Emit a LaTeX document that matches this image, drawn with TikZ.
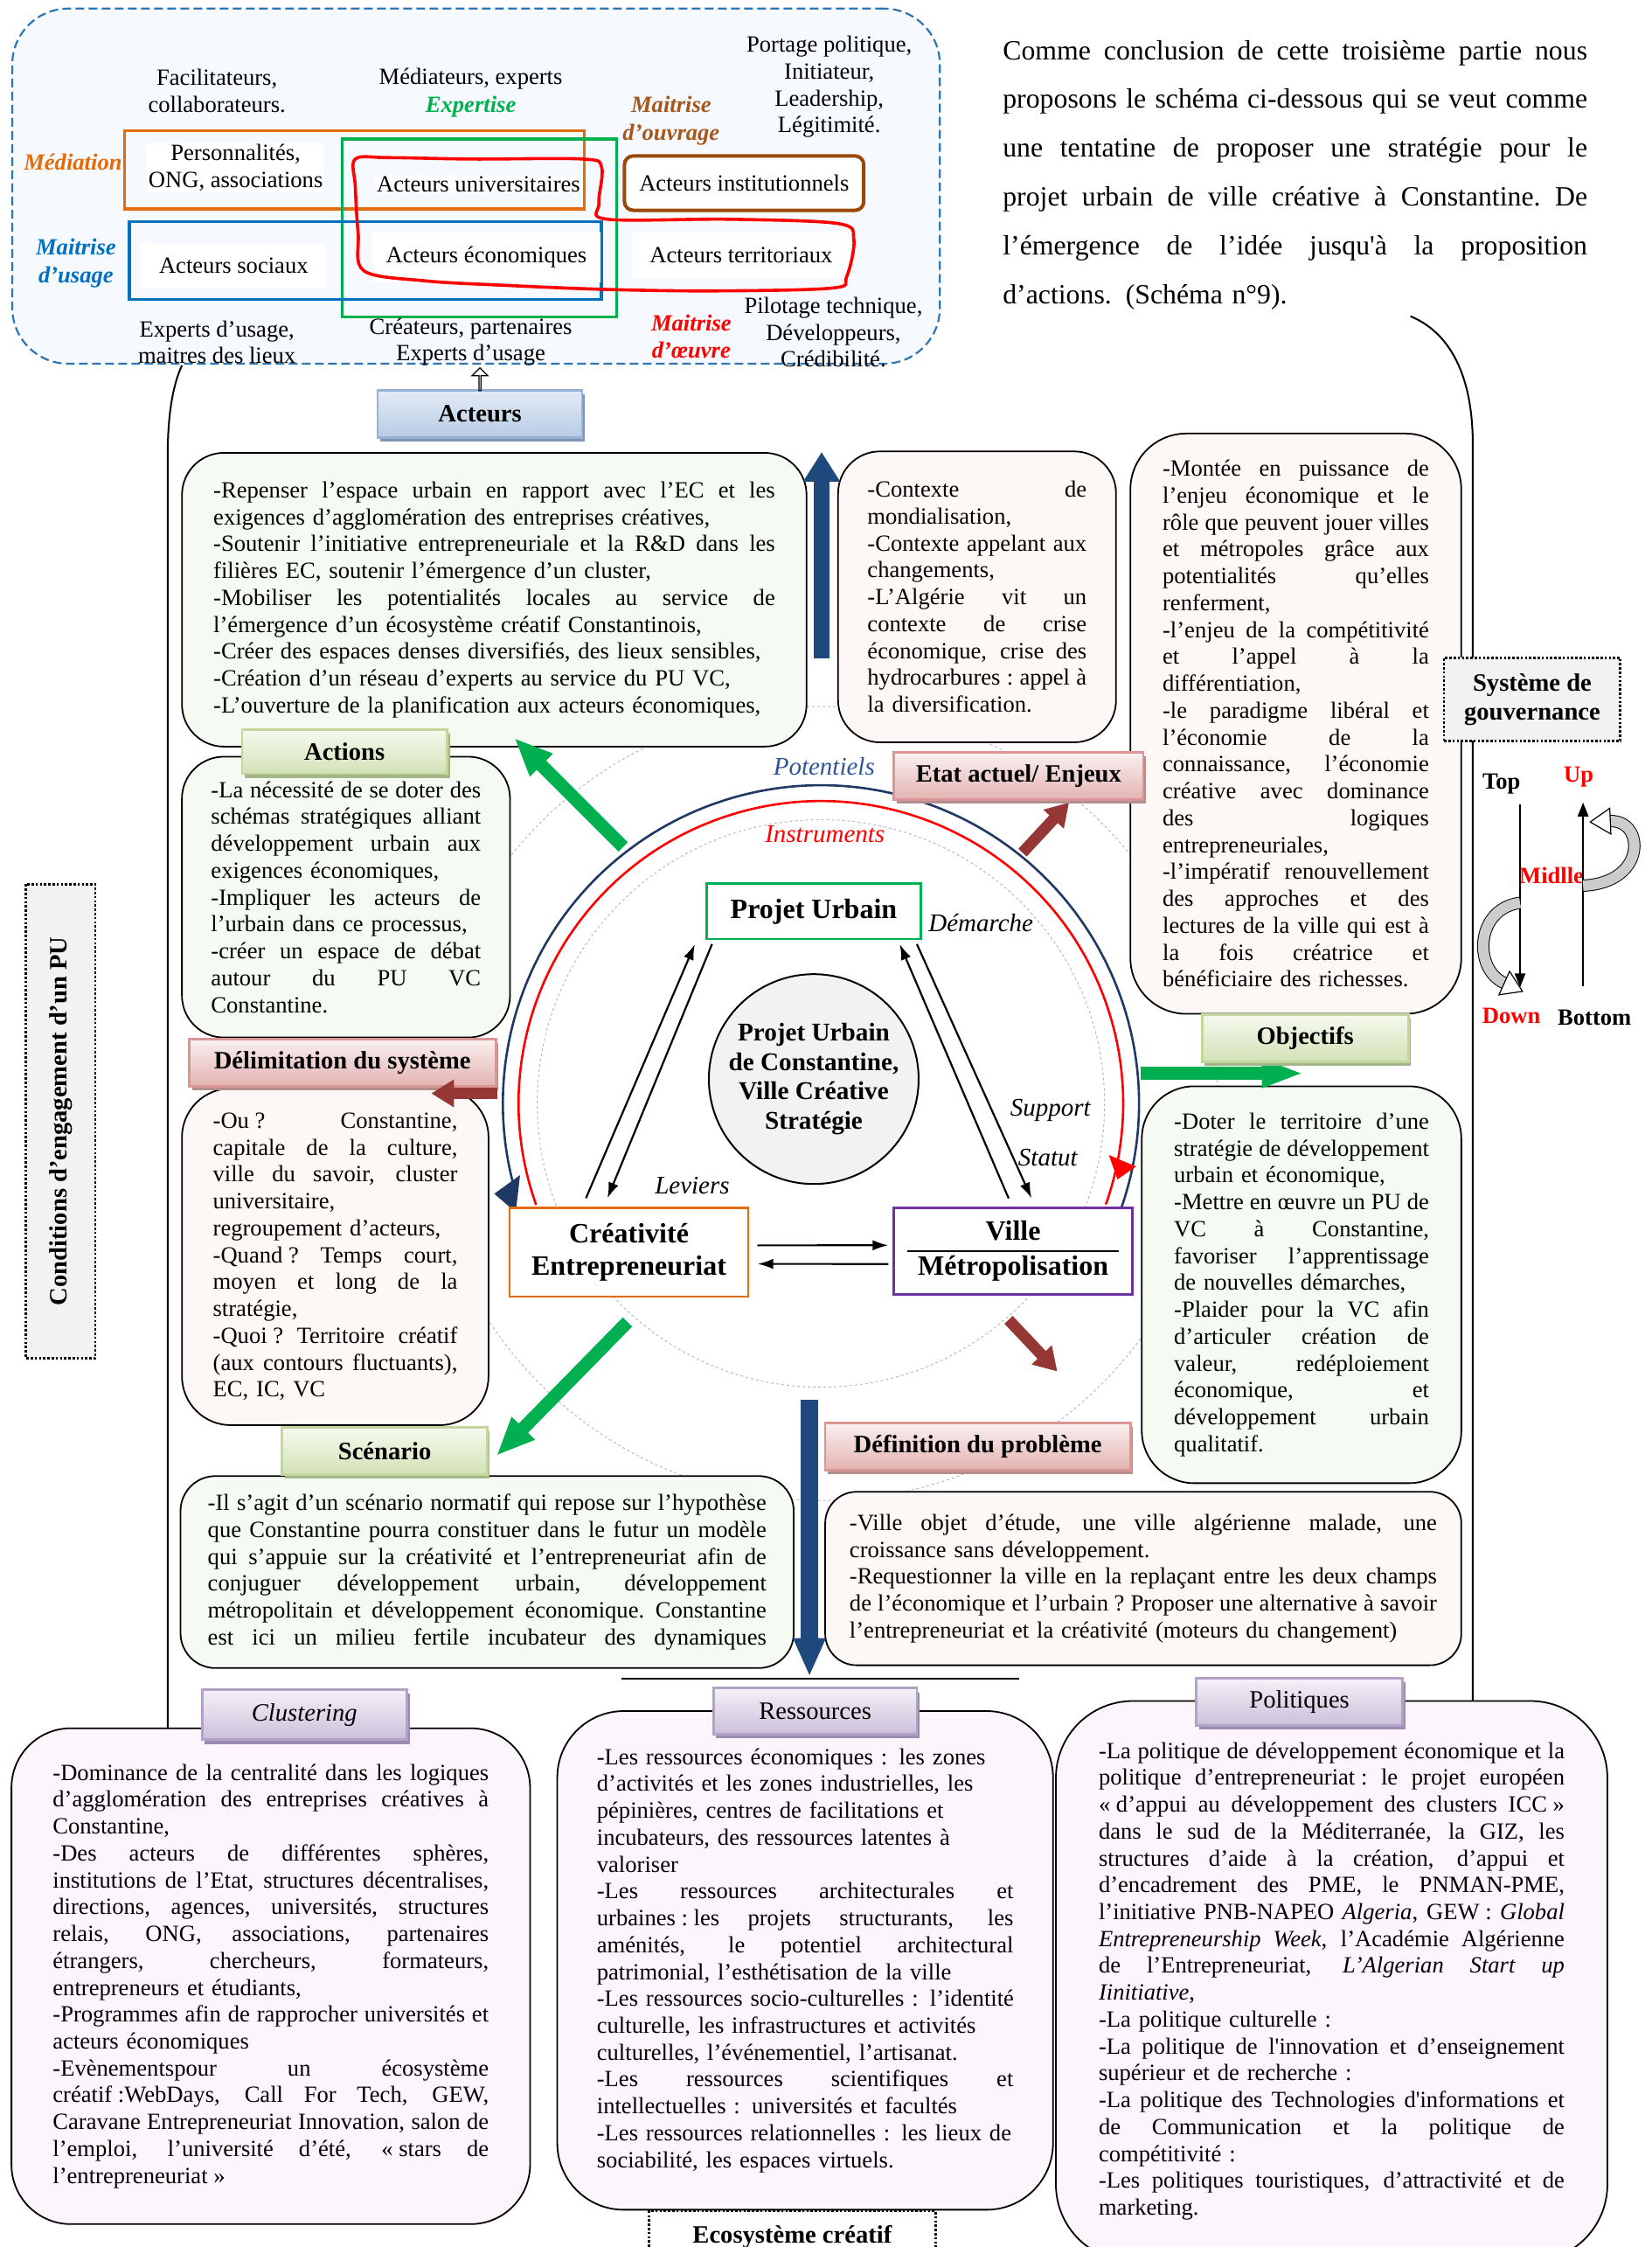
\documentclass[tikz,border=0pt]{standalone}
\usepackage{fontspec}
\setmainfont{Liberation Serif}
\usetikzlibrary{arrows.meta,shadows,shapes.arrows}
\hbadness=10000
\hfuzz=60pt
% one justified line / one natural line of a text block
\newlength\jlw
\newcommand\JL[1]{\ifvmode\noindent\fi\hbox to\jlw{\spaceskip=0.25em plus 1fil minus 0.06em\xspaceskip=\spaceskip #1}\par}
\newcommand\EL[1]{\ifvmode\noindent\fi\hbox{#1}\par}
\newcommand\fsp{\kern0.25em}

\definecolor{dashblue}{HTML}{2E75B6}
\definecolor{topfill}{HTML}{F6F9FE}
\definecolor{orangeC}{HTML}{E36C09}
\definecolor{greenC}{HTML}{00B050}
\definecolor{blueC}{HTML}{0070C0}
\definecolor{brownC}{HTML}{984807}
\definecolor{ouvrage}{HTML}{A5561B}
\definecolor{navy}{HTML}{1F497D}
\definecolor{arcblue}{HTML}{1F3864}
\definecolor{potblue}{HTML}{2F5496}
\definecolor{darkred}{HTML}{953735}
\definecolor{purpleC}{HTML}{7030A0}
\definecolor{fillG}{HTML}{F5FAF2}
\definecolor{fillP}{HTML}{FDF8F6}
\definecolor{fillL}{HTML}{FCF5FC}
\definecolor{grayF}{HTML}{F2F2F2}
\definecolor{gTop}{HTML}{F6F9EF}
\definecolor{gBot}{HTML}{D3E2B6}
\definecolor{gLine}{HTML}{C3D69B}
\definecolor{gShad}{HTML}{A3B58A}
\definecolor{pTop}{HTML}{FAF0F0}
\definecolor{pBot}{HTML}{E3B3B2}
\definecolor{pLine}{HTML}{D99694}
\definecolor{pShad}{HTML}{B48E8D}
\definecolor{lTop}{HTML}{F4F1F8}
\definecolor{lBot}{HTML}{CBC0DA}
\definecolor{lLine}{HTML}{B3A2C7}
\definecolor{lShad}{HTML}{9A8CAE}
\definecolor{bTop}{HTML}{E3EBF6}
\definecolor{bBot}{HTML}{B7CBE4}
\definecolor{bLine}{HTML}{95B3D7}
\definecolor{bShad}{HTML}{8095B5}

\tikzset{
  body/.style={font=\fontsize{13.3}{15.37}\selectfont},
  tw/.style={text width=#1, execute at begin node={\setlength{\jlw}{#1}}},
  txtbox/.style={body, draw=black, line width=0.9pt, inner sep=0pt},
  lblbase/.style={line width=1.4pt, inner sep=0pt,
    drop shadow={shadow xshift=1.6pt, shadow yshift=-2.4pt, opacity=1, fill=#1}},
  lblG/.style={lblbase=gShad, draw=gLine, top color=gTop, bottom color=gBot, font=\fontsize{14.3}{17}\selectfont\bfseries},
  lblP/.style={lblbase=pShad, draw=pLine, top color=pTop, bottom color=pBot, font=\fontsize{14.3}{17}\selectfont\bfseries},
  lblL/.style={lblbase=lShad, draw=lLine, top color=lTop, bottom color=lBot, font=\fontsize{14.3}{17}\selectfont},
  lblB/.style={lblbase=bShad, draw=bLine, top color=bTop, bottom color=bBot, font=\fontsize{14.3}{17}\selectfont\bfseries},
  toptxt/.style={font=\fontsize{13.3}{15.3}\selectfont, align=center, inner sep=1pt},
  keyw/.style={font=\fontsize{13.3}{15.8}\selectfont\bfseries\itshape, align=center, inner sep=1pt},
  circtxt/.style={font=\fontsize{14.5}{17}\selectfont\itshape, inner sep=1pt},
  govtxt/.style={font=\fontsize{13.3}{16}\selectfont\bfseries, inner sep=1pt},
  dotbox/.style={draw, fill=grayF, line width=1.3pt, dash pattern=on 1.3pt off 1.1pt, inner sep=0pt},
  tri/.style={line width=1.1pt, -{Latex[length=9pt,width=6pt]}},
  garrow/.style={greenC, line width=7.5pt, -{Triangle[length=22pt,width=17pt]}},
  rarrow/.style={darkred, line width=6.5pt, -{Triangle[length=13pt,width=15pt]}},
  ribbon/.style={black, line width=0.5pt, double=gray!40, double distance=6pt},
}

\begin{document}
\begin{tikzpicture}[x=0.8196pt,y=-0.8196pt]
\useasboundingbox (0,0) rectangle (1153,1568);

% ---------- outer frame ----------
\draw[line width=1pt] (127,255) .. controls (120,270) and (117,292) .. (117,320) -- (117,1215);
\draw[line width=1pt] (984.5,220.7) .. controls (1012,232) and (1028,262) .. (1028,310) -- (1028,1200);
\draw[line width=1pt] (434,1171.5) -- (711.5,1171.5);

% ---------- guide circles ----------
\draw[gray!55, line width=0.5pt, dash pattern=on 1.5pt off 1.5pt] (573,770) circle[radius=277];
\draw[gray!55, line width=0.5pt, dash pattern=on 1.5pt off 1.5pt] (573,770) circle[radius=198];

% ---------- actors panel ----------
\node[draw=dashblue, fill=topfill, line width=1.1pt, dash pattern=on 5pt off 2.5pt,
      rounded corners=32pt, minimum width=530.7pt, minimum height=203.1pt, inner sep=0pt] (actpanel) at (332.3,129.9) {};
\draw[orangeC, line width=1.6pt] (86.9,91.1) rectangle (407.9,145.8);
\draw[greenC, line width=1.6pt] (238.7,97) rectangle (430.4,221);
\draw[blueC, line width=1.8pt] (90.3,154.6) rectangle (419.8,208.9);

\node[toptxt] (fac) at (151.4,63.6) {Facilitateurs,\\collaborateurs.};
\node[toptxt] (med) at (328.6,54.9) {Médiateurs, experts};
\node[keyw, text=greenC] (expert) at (328.6,74.2) {Expertise};
\node[toptxt] (port) at (578.8,60.7) {Portage politique,\\Initiateur,\\Leadership,\\Légitimité.};
\node[keyw, text=ouvrage] (mouv) at (468.5,84.1) {Maitrise\\d’ouvrage};
\node[keyw, text=orangeC] (medi) at (50.9,113.3) {Médiation};
\node[toptxt, fill=white] (pers) at (164.5,116.9) {Personnalités,\\ONG, associations};
\node[toptxt, fill=white] (univ) at (334,128.5) {Acteurs universitaires};
\node[toptxt, draw=brownC, line width=2pt, rounded corners=5pt, fill=white,
      minimum width=136.9pt, minimum height=31.1pt] (inst) at (519.4,127.8) {Acteurs institutionnels};
\node[keyw, text=blueC] (musage) at (53,183.8) {Maitrise\\d’usage};
\node[toptxt, fill=white, minimum width=106pt, minimum height=25.9pt] (soc) at (163.1,185.6) {Acteurs sociaux};
\node[toptxt, fill=white, minimum width=130.2pt, minimum height=29.2pt] (eco) at (339.5,179.5) {Acteurs économiques};
\node[toptxt, fill=white, minimum width=125pt, minimum height=26.6pt] (terr) at (517.3,177.9) {Acteurs territoriaux};
\node[toptxt] (exu) at (151.4,238.8) {Experts d’usage,\\maitres des lieux};
\node[toptxt] (creat) at (328.6,238.6) {Créateurs, partenaires\\Experts d’usage};
\node[keyw, text=red] (moeuv) at (482.5,234.9) {Maitrise\\d’œuvre};
\node[toptxt] (pil) at (581.7,231.9) {Pilotage technique,\\Développeurs,\\Crédibilité.};

% hand-drawn grouping loop
\draw[red, line width=1.8pt] plot[smooth cycle, tension=0.55] coordinates {
  (248,111) (271,110) (330,111) (407,111) (420,117) (418,142) (424,153) (509,153)
  (585,156) (596,167) (591,193) (581,201) (500,203) (424,202) (350,199) (297,196)
  (254,189) (250,163) (248,130)};

% ---------- introduction text ----------
\node[font=\fontsize{15.9}{27.9}\selectfont, tw=334.4pt, inner sep=0pt] (intro) at (904,122) {%
\JL{Comme conclusion de cette troisième partie nous}%
\JL{proposons le schéma ci-dessous qui se veut comme}%
\JL{une tentatine de proposer une stratégie pour le}%
\JL{projet urbain de ville créative à Constantine. De}%
\JL{l’émergence de l’idée jusqu\textquotesingle à la proposition}%
\EL{d’actions. (Schéma n°9).}};

% ---------- text boxes ----------
\node[txtbox, fill=fillG, rounded corners=24pt, minimum width=357.3pt, minimum height=168pt, tw=321.3pt] (actbox) at (345,418.5) {%
\JL{-Repenser l’espace urbain en rapport avec l’EC et les}%
\EL{exigences d’agglomération des entreprises créatives,}%
\JL{-Soutenir l’initiative entrepreneuriale et la R\&D dans les}%
\EL{filières EC, soutenir l’émergence d’un cluster,}%
\JL{-Mobiliser les potentialités locales au service de}%
\EL{l’émergence d’un écosystème créatif Constantinois,}%
\EL{-Créer des espaces denses diversifiés, des lieux sensibles,}%
\EL{-Création d’un réseau d’experts au service du PU VC,}%
\EL{-L’ouverture de la planification aux acteurs économiques,}};

\node[txtbox, fill=fillP, rounded corners=24pt, minimum width=159pt, minimum height=166.4pt, tw=125.4pt] (ctxbox) at (682,416.5) {%
\JL{-Contexte de}%
\EL{mondialisation,}%
\JL{-Contexte appelant aux}%
\EL{changements,}%
\JL{-L’Algérie vit un}%
\JL{contexte de crise}%
\JL{économique, crise des}%
\JL{hydrocarbures : appel à}%
\EL{la diversification.}};

\node[txtbox, fill=fillP, rounded corners=32pt, minimum width=189.3pt, minimum height=331.9pt, tw=152.4pt] (monbox) at (904.5,505) {%
\JL{-Montée en puissance de}%
\JL{l’enjeu économique et le}%
\JL{rôle que peuvent jouer villes}%
\JL{et métropoles grâce aux}%
\JL{potentialités qu’elles}%
\EL{renferment,}%
\JL{-l’enjeu de la compétitivité}%
\JL{et l’appel à la}%
\EL{différentiation,}%
\JL{-le paradigme libéral et}%
\JL{l’économie de la}%
\JL{connaissance, l’économie}%
\JL{créative avec dominance}%
\JL{des logiques}%
\EL{entrepreneuriales,}%
\JL{-l’impératif renouvellement}%
\JL{des approches et des}%
\JL{lectures de la ville qui est à}%
\JL{la fois créatrice et}%
\EL{bénéficiaire des richesses.}};

\node[txtbox, fill=fillG, rounded corners=24pt, minimum width=187.7pt, minimum height=160.6pt, tw=154.4pt] (necbox) at (241.5,626) {%
\JL{-La nécessité de se doter des}%
\JL{schémas stratégiques alliant}%
\JL{développement urbain aux}%
\EL{exigences économiques,}%
\JL{-Impliquer les acteurs de}%
\EL{l’urbain dans ce processus,}%
\JL{-créer un espace de débat}%
\JL{autour du PU VC}%
\EL{Constantine.}};

\node[txtbox, fill=fillP, rounded corners=28pt, minimum width=175.4pt, minimum height=192.6pt, tw=139.9pt] (delbox) at (234,877) {%
\JL{-Ou\fsp? Constantine,}%
\JL{capitale de la culture,}%
\JL{ville du savoir, cluster}%
\EL{universitaire,}%
\EL{regroupement d’acteurs,}%
\JL{-Quand\fsp? Temps court,}%
\JL{moyen et long de la}%
\EL{stratégie,}%
\JL{-Quoi\fsp? Territoire créatif}%
\JL{(aux contours fluctuants),}%
\EL{EC, IC, VC}};

\node[txtbox, fill=fillG, rounded corners=30pt, minimum width=182.8pt, minimum height=227pt, tw=145.9pt] (objbox) at (908.5,896.5) {%
\JL{-Doter le territoire d’une}%
\JL{stratégie de développement}%
\EL{urbain et économique,}%
\JL{-Mettre en œuvre un PU de}%
\JL{VC à Constantine,}%
\JL{favoriser l’apprentissage}%
\EL{de nouvelles démarches,}%
\JL{-Plaider pour la VC afin}%
\JL{d’articuler création de}%
\JL{valeur, redéploiement}%
\JL{économique, et}%
\JL{développement urbain}%
\EL{qualitatif.}};

\node[txtbox, fill=fillG, rounded corners=20pt, minimum width=350.8pt, minimum height=109.8pt, tw=319.6pt] (scnbox) at (340,1097) {%
\JL{-Il s’agit d’un scénario normatif qui repose sur l’hypothèse}%
\JL{que Constantine pourra constituer dans le futur un modèle}%
\JL{qui s’appuie sur la créativité et l’entrepreneuriat afin de}%
\JL{conjuguer développement urbain, développement}%
\JL{métropolitain et développement économique. Constantine}%
\JL{est ici un milieu fertile incubateur des dynamiques}};

\node[txtbox, fill=fillP, rounded corners=18pt, minimum width=363.9pt, minimum height=99.2pt, tw=336pt] (defbox) at (798,1101.5) {%
\JL{-Ville objet d’étude, une ville algérienne malade, une}%
\EL{croissance sans développement.}%
\JL{-Requestionner la ville en la replaçant entre les deux champs}%
\JL{de l’économique et l’urbain\fsp? Proposer une alternative à savoir}%
\EL{l’entrepreneuriat et la créativité (moteurs du changement)}};

% ecosystem caption under the resources
\node[dotbox, fill=white, minimum width=163.9pt, minimum height=46.7pt] (ecobox) at (553,1571.5) {};
\node[font=\fontsize{14.3}{17}\selectfont\bfseries, inner sep=0pt] (ecotxt) at (553,1561) {Ecosystème créatif};

\node[txtbox, fill=fillL, rounded corners=34pt, minimum width=296.7pt, minimum height=283.6pt, tw=249.4pt] (clubox) at (189,1379) {%
\JL{-Dominance de la centralité dans les logiques}%
\JL{d’agglomération des entreprises créatives à}%
\EL{Constantine,}%
\JL{-Des acteurs de différentes sphères,}%
\JL{institutions de l’Etat, structures décentralises,}%
\JL{directions, agences, universités, structures}%
\JL{relais, ONG, associations, partenaires}%
\JL{étrangers, chercheurs, formateurs,}%
\EL{entrepreneurs et étudiants,}%
\JL{-Programmes afin de rapprocher universités et}%
\EL{acteurs économiques}%
\JL{-Evènementspour un écosystème}%
\JL{créatif\fsp:WebDays, Call For Tech, GEW,}%
\JL{Caravane Entrepreneuriat Innovation, salon de}%
\JL{l’emploi, l’université d’été, «\fsp stars de}%
\EL{l’entrepreneuriat\fsp»}};

\node[txtbox, fill=fillL, rounded corners=38pt, minimum width=283.6pt, minimum height=285.2pt, tw=238.3pt] (resbox) at (562,1368) {%
\EL{-Les ressources économiques : les zones}%
\EL{d’activités et les zones industrielles, les}%
\EL{pépinières, centres de facilitations et}%
\EL{incubateurs, des ressources latentes à}%
\EL{valoriser}%
\JL{-Les ressources architecturales et}%
\JL{urbaines\fsp:\fsp les projets structurants, les}%
\JL{aménités, le potentiel architectural}%
\EL{patrimonial, l’esthétisation de la ville}%
\EL{-Les ressources socio-culturelles : l’identité}%
\EL{culturelle, les infrastructures et activités}%
\EL{culturelles, l’événementiel, l’artisanat.}%
\JL{-Les ressources scientifiques et}%
\EL{intellectuelles : universités et facultés}%
\EL{-Les ressources relationnelles : les lieux de}%
\EL{sociabilité, les espaces virtuels.}};

\node[txtbox, fill=fillL, rounded corners=44pt, minimum width=315.5pt, minimum height=320.5pt, tw=266.5pt] (polbox) at (929.5,1382.5) {%
\JL{-La politique de développement économique et la}%
\JL{politique d’entrepreneuriat\fsp: le projet européen}%
\JL{«\fsp d’appui au développement des clusters ICC\fsp»}%
\JL{dans le sud de la Méditerranée, la GIZ, les}%
\JL{structures d’aide à la création, d’appui et}%
\JL{d’encadrement des PME, le PNMAN-PME,}%
\JL{l’initiative PNB-NAPEO \textit{Algeria}, GEW\fsp: \textit{Global}}%
\JL{\textit{Entrepreneurship Week}, l’Académie Algérienne}%
\JL{de l’Entrepreneuriat, \textit{L’Algerian Start up}}%
\EL{\textit{Iinitiative},}%
\EL{-La politique culturelle :}%
\JL{-La politique de l\textquotesingle innovation et d’enseignement}%
\EL{supérieur et de recherche :}%
\JL{-La politique des Technologies d\textquotesingle informations et}%
\JL{de Communication et la politique de}%
\EL{compétitivité :}%
\JL{-Les politiques touristiques, d’attractivité et de}%
\EL{marketing.}};

% ---------- side captions ----------
\node[dotbox, rotate=90, minimum width=271pt, minimum height=39.6pt,
      font=\fontsize{14.3}{17}\selectfont\bfseries] (cond) at (42.3,782.4) {Conditions d’engagement d’un PU};
\node[dotbox, minimum width=100.8pt, minimum height=47.5pt, align=center,
      font=\fontsize{14.3}{16.4}\selectfont\bfseries] (gouv) at (1069.5,488) {Système de\\gouvernance};

% ---------- governance levels ----------
\node[govtxt] (top) at (1048,547) {Top};
\node[govtxt, text=red] (up) at (1102,542) {Up};
\node[govtxt, text=red] (mid) at (1083,611) {Midlle};
\node[govtxt, text=red] (down) at (1055,709) {Down};
\node[govtxt] (bottom) at (1113,710) {Bottom};
\coordinate (ltop) at (1061,561); \coordinate (lbot) at (1061,689);
\coordinate (rtop) at (1105,560); \coordinate (rbot) at (1105,688);
\draw[line width=1.3pt, -{Triangle[length=8pt,width=6pt]}] (ltop) -- (lbot);
\draw[line width=1.3pt, -{Triangle[length=8pt,width=6pt]}] (rbot) -- (rtop);
\draw[ribbon] (1061,630) .. controls (1030,634) and (1028,676) .. (1050,686);
\draw[fill=white, line width=0.6pt] (1062.7,691.8) -- (1053.7,677.8) -- (1046.3,694.2) -- cycle;
\draw[ribbon] (1105,618) .. controls (1150,616) and (1148,572) .. (1124,573);
\draw[fill=white, line width=0.6pt] (1110,573.6) -- (1124.4,582) -- (1123.6,564) -- cycle;

% ---------- circles of the strategy ----------
\draw[arcblue, line width=1.3pt] (573,770) ++(19:222) arc[start angle=19, end angle=-196.5, radius=222];
\fill[arcblue] (345,833) -- (363,820) -- (360,846) -- cycle;
\draw[red, line width=1.3pt] (573,770) ++(-199.6:211) arc[start angle=-199.6, end angle=19.5, radius=211];
\fill[red] (774,806) -- (793,814) -- (780,823) -- cycle;

\node[circtxt, text=potblue] (pot) at (575.2,534.9) {Potentiels};
\node[circtxt, text=red] (instr) at (575.8,582) {Instruments};
\node[circtxt] (dem) at (684.7,644) {Démarche};
\node[circtxt] (supp) at (733.2,775) {Support};
\node[circtxt] (stat) at (731.4,807.8) {Statut};
\node[circtxt] (lev) at (483.2,827.4) {Leviers};

\node[draw=greenC, line width=1.3pt, fill=white, minimum width=122.4pt, minimum height=31.7pt,
      font=\fontsize{16}{19}\selectfont\bfseries, inner sep=0pt] (pu) at (568,636) {Projet Urbain};
\node[circle, draw, fill=grayF, line width=1pt, minimum size=120pt, align=center,
      font=\fontsize{14.6}{16.8}\selectfont\bfseries, inner sep=0pt] (core) at (568,753) {Projet Urbain\\de Constantine,\\Ville Créative\\Stratégie};
\node[draw=orangeC, line width=1.3pt, fill=white, minimum width=136.5pt, minimum height=50.8pt, align=center,
      font=\fontsize{16}{18.9}\selectfont\bfseries, inner sep=0pt] (cre) at (439,873.8) {Créativité\\Entrepreneuriat};
\node[draw=purpleC, line width=1.3pt, fill=white, minimum width=136.5pt, minimum height=49.4pt, align=center,
      font=\fontsize{16}{19.9}\selectfont\bfseries, inner sep=0pt] (vil) at (707.2,873) {Ville\\Métropolisation};
\draw[line width=0.9pt] ([xshift=8.4pt]vil.west) -- ([xshift=-8.6pt]vil.east);

\draw[tri] ([xshift=-24.6pt,yshift=4.8pt]cre.north) -- ([xshift=-68pt,yshift=-2.2pt]pu.south);
\draw[tri] ([xshift=-58.2pt,yshift=-2.2pt]pu.south) -- ([xshift=-12.3pt,yshift=4.8pt]cre.north);
\draw[tri] ([xshift=-2.6pt,yshift=4.8pt]vil.north) -- ([xshift=49.2pt,yshift=-2.2pt]pu.south);
\draw[tri] ([xshift=59pt,yshift=-2.2pt]pu.south) -- ([xshift=10.5pt,yshift=4.8pt]vil.north);
\draw[tri] ([xshift=4.7pt,yshift=3.9pt]cre.east) -- ([xshift=-2.5pt,yshift=3.3pt]vil.west);
\draw[tri] ([xshift=-2.5pt,yshift=-7.4pt]vil.west) -- ([xshift=4.7pt,yshift=-6.7pt]cre.east);

% ---------- block arrows ----------
\coordinate (g1s) at (435,591);   \coordinate (g1e) at (359,515);
\coordinate (g2s) at (796,749);   \coordinate (g2e) at (910,749);
\coordinate (g3s) at (438,922.5); \coordinate (g3e) at (346.5,1015.8);
\coordinate (r1s) at (713.7,595); \coordinate (r1e) at (746.2,560);
\coordinate (r2s) at (347,763);   \coordinate (r2e) at (301,763);
\coordinate (r3s) at (704,921);   \coordinate (r3e) at (738,957);
\coordinate (nus) at (573.5,459.5); \coordinate (nue) at (573.5,315.4);
\coordinate (nds) at (565,977);   \coordinate (nde) at (565,1170);
\draw[garrow] (g1s) -- (g1e);
\draw[greenC, line width=7.5pt, -{Triangle[length=24pt,width=15pt]}] (g2s) -- (g2e);
\draw[garrow] (g3s) -- (g3e);
\draw[rarrow] (r1s) -- (r1e);
\draw[rarrow] (r3s) -- (r3e);
\draw[navy, line width=9.4pt, -{Triangle[length=17pt,width=20pt]}] (nus) -- (nue);
\draw[navy, line width=9.6pt, -{Triangle[length=22pt,width=17pt]}] (nds) -- (nde);

% ---------- headings ----------
\node[lblB, minimum width=117pt, minimum height=27pt] (lact) at (335,289) {Acteurs};
\node[single arrow, draw, fill=white, line width=0.6pt, rotate=90, minimum height=13pt, minimum width=9pt,
      single arrow head extend=2pt, inner sep=0pt] (uparr) at (335,265) {};
\node[lblG, minimum width=117.2pt, minimum height=25.4pt] (lactions) at (240.5,524.5) {Actions};
\node[lblP, minimum width=142.6pt, minimum height=27pt] (letat) at (711,541.5) {Etat actuel/ Enjeux};
\node[lblP, minimum width=175.4pt, minimum height=27pt] (ldelim) at (239,741.5) {Délimitation du système};
\node[lblG, minimum width=118pt, minimum height=27pt] (lobj) at (911,724.5) {Objectifs};
\node[lblG, minimum width=117.2pt, minimum height=27pt] (lscn) at (268.5,1012.5) {Scénario};
\node[lblP, minimum width=174.6pt, minimum height=27pt] (ldef) at (682.5,1009.5) {Définition du problème};
\node[lblL, font=\fontsize{14.3}{17}\selectfont\itshape, minimum width=117.2pt, minimum height=28.7pt] (lclu) at (212.5,1196.5) {Clustering};
\node[lblL, minimum width=116.4pt, minimum height=26.2pt] (lres) at (569,1194) {Ressources};
\node[lblL, minimum width=118pt, minimum height=27pt] (lpol) at (907,1187.5) {Politiques};

% arrow towards the system delimitation, over its heading shadow
\draw[rarrow] (r2s) -- (r2e);

\end{tikzpicture}
\end{document}
